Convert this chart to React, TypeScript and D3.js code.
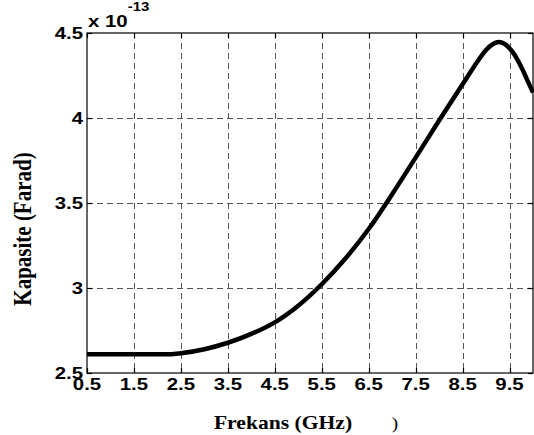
import React, { useEffect, useRef } from "react";
import * as d3 from "d3";

const freqGHz = [0.5, 1, 1.5, 2, 2.3, 2.5, 3, 3.5, 4, 4.5, 5, 5.5, 6, 6.5, 7, 7.5, 8, 8.5, 8.75, 9, 9.15, 9.27, 9.4, 9.5, 9.6, 9.75, 9.9, 10];
const capacitance = [2.61, 2.61, 2.61, 2.61, 2.611, 2.616, 2.64, 2.678, 2.73, 2.798, 2.896, 3.022, 3.172, 3.347, 3.552, 3.767, 3.985, 4.198, 4.305, 4.4, 4.435, 4.447, 4.435, 4.41, 4.375, 4.3, 4.21, 4.15];
const xTicks = [0.5, 1.5, 2.5, 3.5, 4.5, 5.5, 6.5, 7.5, 8.5, 9.5];
const yTicks = [2.5, 3, 3.5, 4, 4.5];
const xLabel = "Frekans (GHz)";
const yLabel = "Kapasite (Farad)";

const W = 534;
const H = 435;
const L = 87;
const R = 533;
const T = 33;
const B = 373;
const SX = 1.2;

export default function App() {
  const ref = useRef<SVGSVGElement>(null);
  useEffect(() => {
    const svg = d3.select(ref.current);
    svg.selectAll("*").remove();
    const x = d3.scaleLinear().domain([0.5, 10]).range([L, R]);
    const y = d3.scaleLinear().domain([2.5, 4.5]).range([B, T]);

    svg.append("rect").attr("width", W).attr("height", H).attr("fill", "#fff");

    const grid = svg.append("g").attr("stroke", "#555").attr("stroke-width", 1).attr("stroke-dasharray", "6,4");
    xTicks.slice(1).forEach((t) => {
      grid.append("line").attr("x1", Math.round(x(t)) + 0.5).attr("x2", Math.round(x(t)) + 0.5).attr("y1", T).attr("y2", B);
    });
    yTicks.slice(1, -1).forEach((t) => {
      grid.append("line").attr("y1", Math.round(y(t)) + 0.5).attr("y2", Math.round(y(t)) + 0.5).attr("x1", L).attr("x2", R);
    });

    const ax = svg.append("g").attr("stroke", "#000").attr("stroke-width", 1.2);
    ax.append("rect").attr("x", L).attr("y", T).attr("width", R - L).attr("height", B - T).attr("fill", "none");
    xTicks.forEach((t) => {
      const px = Math.round(x(t)) + 0.5;
      ax.append("line").attr("x1", px).attr("x2", px).attr("y1", B).attr("y2", B - 5);
      ax.append("line").attr("x1", px).attr("x2", px).attr("y1", T).attr("y2", T + 5);
    });
    yTicks.forEach((t) => {
      const py = Math.round(y(t)) + 0.5;
      ax.append("line").attr("y1", py).attr("y2", py).attr("x1", L).attr("x2", L + 5);
      ax.append("line").attr("y1", py).attr("y2", py).attr("x1", R).attr("x2", R - 5);
    });

    const pts = freqGHz.map((f, i) => [f, capacitance[i]] as [number, number]);
    const line = d3
      .line<[number, number]>()
      .x((d) => x(d[0]))
      .y((d) => y(d[1]))
      .curve(d3.curveCatmullRom.alpha(0.5));
    svg
      .append("path")
      .attr("d", line(pts))
      .attr("fill", "none")
      .attr("stroke", "#000")
      .attr("stroke-width", 4.5)
      .attr("stroke-linejoin", "round");

    const tickFont = "Liberation Sans, Arial, sans-serif";
    xTicks.forEach((t) => {
      svg
        .append("text")
        .attr("transform", `translate(${x(t)},390) scale(${SX},1)`)
        .attr("text-anchor", "middle")
        .attr("font-family", tickFont)
        .attr("font-weight", "bold")
        .attr("font-size", 17)
        .text(d3.format(".1f")(t));
    });
    yTicks.forEach((t) => {
      svg
        .append("text")
        .attr("transform", `translate(83,${y(t) + 6}) scale(${SX},1)`)
        .attr("text-anchor", "end")
        .attr("font-family", tickFont)
        .attr("font-weight", "bold")
        .attr("font-size", 17)
        .text(t === 3 || t === 4 ? String(t) : d3.format(".1f")(t));
    });

    const exp = svg
      .append("text")
      .attr("transform", `translate(88,27) scale(${SX},1)`)
      .attr("font-family", tickFont)
      .attr("font-weight", "bold")
      .attr("font-size", 17);
    exp.append("tspan").text("x 10");
    exp.append("tspan").attr("dy", -16).attr("font-size", 12.5).text("-13");

    const serif = "Liberation Serif, Times New Roman, serif";
    svg
      .append("text")
      .attr("transform", `translate(283,429) scale(${SX},1)`)
      .attr("text-anchor", "middle")
      .attr("font-family", serif)
      .attr("font-weight", "bold")
      .attr("font-size", 18)
      .text(xLabel);
    svg
      .append("text")
      .attr("transform", `translate(395,429) scale(${SX},1)`)
      .attr("text-anchor", "middle")
      .attr("font-family", serif)
      .attr("font-size", 16)
      .text(")");
    svg
      .append("text")
      .attr("transform", `translate(31,229) scale(${SX},1) rotate(-90)`)
      .attr("text-anchor", "middle")
      .attr("font-family", serif)
      .attr("font-weight", "bold")
      .attr("font-size", 21)
      .text(yLabel);
  }, []);
  return (
    <svg
      ref={ref}
      width={W}
      height={H}
      style={{ position: "absolute", left: 0, top: 0, display: "block" }}
    />
  );
}
